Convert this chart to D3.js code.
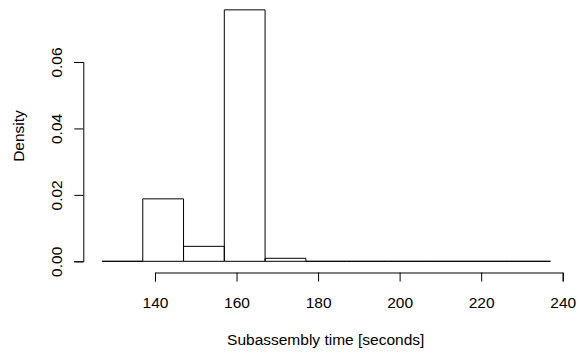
<!DOCTYPE html>
<html>
<head>
<meta charset="utf-8">
<script src="https://cdn.jsdelivr.net/npm/d3@7"></script>
<style>
  body { margin: 0; background: #fff; }
  text { font-family: "Liberation Sans", Arial, sans-serif; font-size: 15.5px; fill: #000; }
</style>
</head>
<body>
<div id="chart"></div>
<script>
var svgWidth = 582;
var svgHeight = 354;

// histogram: bin breaks (seconds) and density per bin
var breaks = [127, 137, 147, 157, 167, 177, 187, 197, 207, 217, 227, 237];
var density = [0, 0.0188, 0.0045, 0.0757, 0.0009, 0, 0, 0, 0, 0, 0];
var xTicks = [140, 160, 180, 200, 220, 240];
var yTicks = [0, 0.02, 0.04, 0.06];

var svg = d3.select("#chart")
    .append("svg")
    .attr("width", svgWidth)
    .attr("height", svgHeight);

var xScale = d3.scaleLinear()
    .domain([140, 240])
    .range([155, 562.7]);

var yScale = d3.scaleLinear()
    .domain([0, 0.06])
    .range([261.3, 62]);

var bins = density.map((d, i) => ({x0: breaks[i], x1: breaks[i + 1], y: d}));

// each bin as an outline, so empty bins still draw the flat base line
svg.append("g")
    .selectAll("path")
    .data(bins)
    .enter()
    .append("path")
    .attr("d", d => {
        var x0 = xScale(d.x0), x1 = xScale(d.x1);
        var b = yScale(0), t = yScale(d.y);
        return `M${x0},${b}V${t}H${x1}V${b}Z`;
    })
    .attr("fill", "none")
    .attr("stroke", "#000")
    .attr("stroke-width", 1);

var xAxis = d3.axisBottom(xScale)
    .tickValues(xTicks)
    .tickSize(9)
    .tickSizeOuter(9)
    .tickPadding(15)
    .tickFormat(d3.format("d"));

var gx = svg.append("g")
    .attr("transform", "translate(0, 272.5)")
    .call(xAxis);
gx.selectAll("path, line").attr("stroke", "#000");
gx.selectAll("text").style("font-size", "15.5px").attr("font-family", null);

var yAxis = d3.axisLeft(yScale)
    .tickValues(yTicks)
    .tickSize(9)
    .tickSizeOuter(9)
    .tickFormat(d3.format(".2f"));

var gy = svg.append("g")
    .attr("transform", "translate(83.3, 0)")
    .call(yAxis);
gy.selectAll("path, line").attr("stroke", "#000");
// R style: tick labels parallel to the axis
gy.selectAll("text")
    .attr("x", 0)
    .attr("y", 0)
    .attr("dy", 0)
    .attr("text-anchor", "middle")
    .attr("transform", "translate(-21, 0) rotate(-90)")
    .style("font-size", "15.5px");

svg.selectAll(".domain").attr("stroke", "#000");

// axis titles
svg.append("text")
    .attr("x", 325.7)
    .attr("y", 345)
    .attr("text-anchor", "middle")
    .text("Subassembly time [seconds]");

svg.append("text")
    .attr("transform", "translate(23.5, 136) rotate(-90)")
    .attr("text-anchor", "middle")
    .text("Density");
</script>
</body>
</html>
